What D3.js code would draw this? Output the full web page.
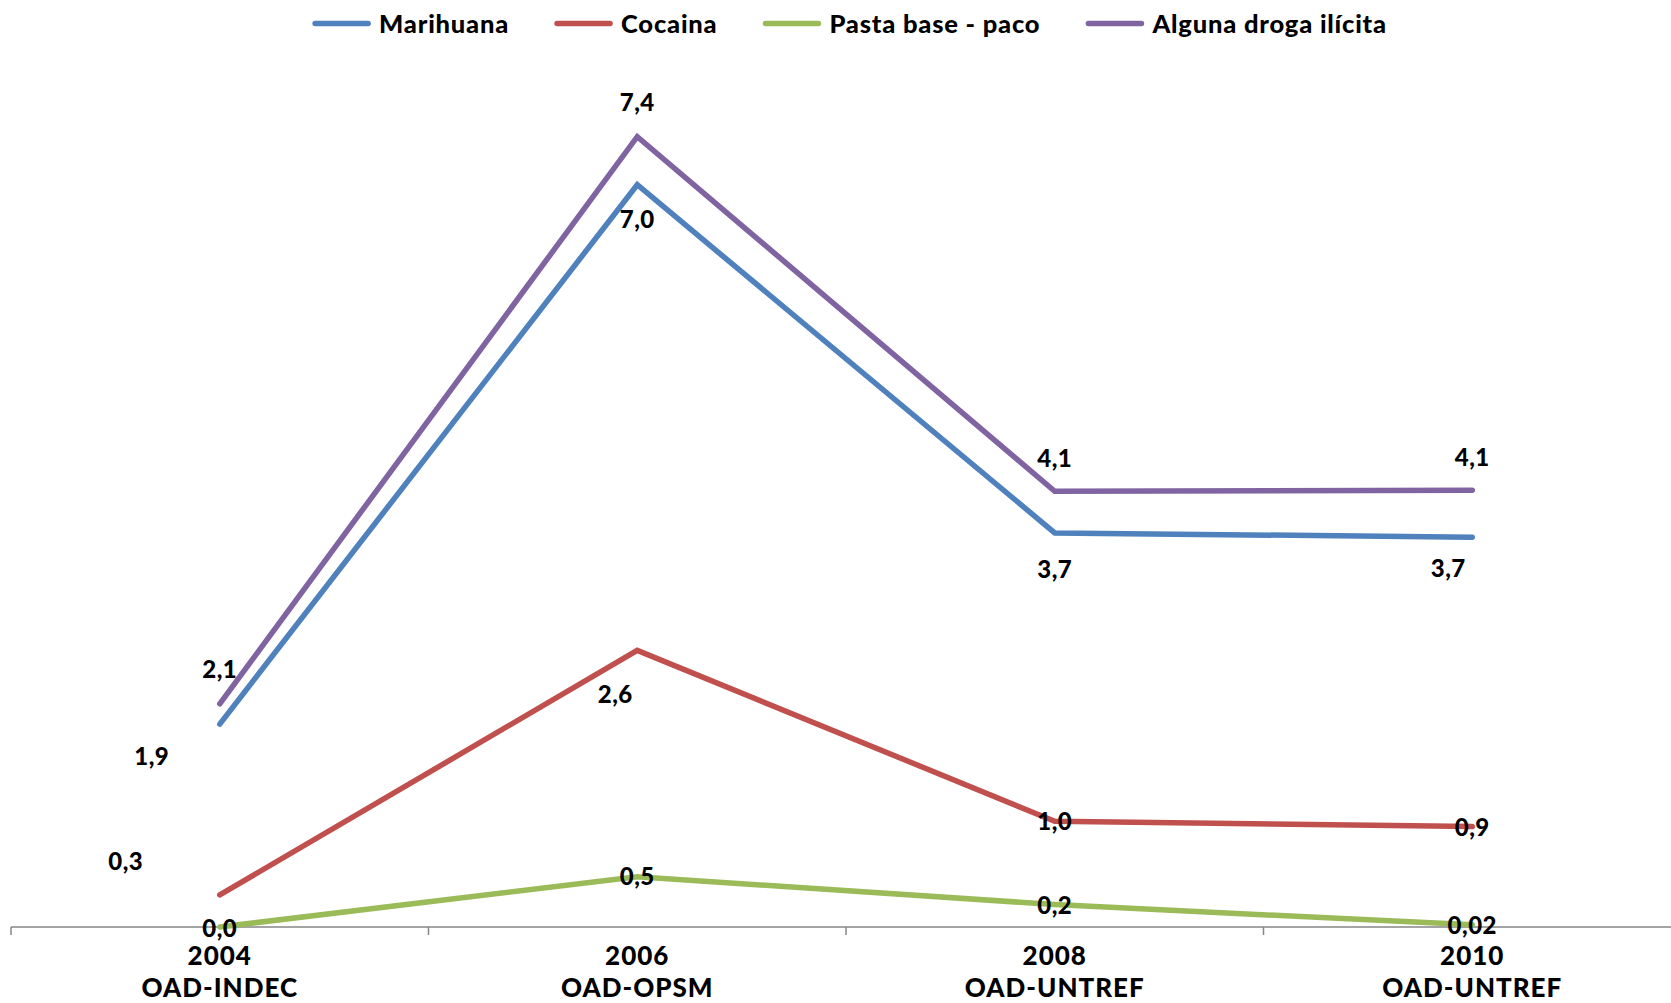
<!DOCTYPE html>
<html>
<head>
<meta charset="utf-8">
<script src="https://cdn.jsdelivr.net/npm/d3@7"></script>
<style>
  html, body { margin: 0; padding: 0; background: #fff; }
  svg { display: block; font-family: Lato, "Open Sans", sans-serif; font-weight: 900; }
</style>
</head>
<body>
<svg id="chart" width="1671" height="1003"></svg>
<script>
// ---- Data ----
const years = ["2004", "2006", "2008", "2010"];
const sources = ["OAD-INDEC", "OAD-OPSM", "OAD-UNTREF", "OAD-UNTREF"];
const seriesNames = ["Marihuana", "Cocaina", "Pasta base - paco", "Alguna droga ilícita"];
const marihuana = [1.9, 6.95, 3.69, 3.65];
const cocaina = [0.3, 2.59, 0.99, 0.94];
const pastaBase = [0.0, 0.47, 0.21, 0.02];
const algunaDroga = [2.09, 7.4, 4.08, 4.09];
const marihuanaLabels = ["1,9", "7,0", "3,7", "3,7"];
const cocainaLabels = ["0,3", "2,6", "1,0", "0,9"];
const pastaBaseLabels = ["0,0", "0,5", "0,2", "0,02"];
const algunaDrogaLabels = ["2,1", "7,4", "4,1", "4,1"];
const yDomain = [0, 8];

// ---- Styling / layout (not data) ----
const colors = ["#4F81BD", "#C0504D", "#9BBB59", "#8064A2"];
const labelOffsets = [
  [[-68, 32], [0, 35], [0, 36], [-24, 31]],   // Marihuana
  [[-94, -34], [-22, 44], [0, 0], [0, 1]],    // Cocaina
  [[0, 1], [0, 0], [0, 1], [0, 0]],           // Pasta base
  [[0, -34], [0, -34], [0, -33], [0, -33]]    // Alguna droga
];

const series = [
  { name: seriesNames[0], values: marihuana, labels: marihuanaLabels },
  { name: seriesNames[1], values: cocaina, labels: cocainaLabels },
  { name: seriesNames[2], values: pastaBase, labels: pastaBaseLabels },
  { name: seriesNames[3], values: algunaDroga, labels: algunaDrogaLabels }
];

const svg = d3.select("#chart");

const x = d3.scaleBand().domain(years).range([11, 1681]).padding(0);
const y = d3.scaleLinear().domain(yDomain).range([927, 72.6]);
const cx = d => x(d) + x.bandwidth() / 2;

// Axis
const axisG = svg.append("g");
axisG.append("line")
  .attr("x1", x.range()[0]).attr("x2", x.range()[1])
  .attr("y1", y(0)).attr("y2", y(0))
  .attr("stroke", "#868686").attr("stroke-width", 1.5);
const boundaries = years.map(d => x(d)).concat([x.range()[1]]);
axisG.selectAll("line.tick").data(boundaries).enter().append("line")
  .attr("class", "tick")
  .attr("x1", d => d).attr("x2", d => d)
  .attr("y1", y(0)).attr("y2", y(0) + 8)
  .attr("stroke", "#868686").attr("stroke-width", 1.5);
const catLabels = axisG.selectAll("text.cat").data(years).enter().append("text")
  .attr("class", "cat")
  .attr("x", d => cx(d))
  .attr("text-anchor", "middle")
  .attr("font-size", 26)
  .attr("letter-spacing", 1)
  .attr("fill", "#000");
catLabels.append("tspan").attr("x", d => cx(d)).attr("y", 965).text(d => d);
catLabels.append("tspan").attr("x", d => cx(d)).attr("y", 997).text((d, i) => sources[i]);

// Lines
const line = d3.line().x((v, i) => cx(years[i])).y(v => y(v));
svg.selectAll("path.series").data(series).enter().append("path")
  .attr("class", "series")
  .attr("d", s => line(s.values))
  .attr("fill", "none")
  .attr("stroke", (s, i) => colors[i])
  .attr("stroke-width", 5.5)
  .attr("stroke-linejoin", "miter")
  .attr("stroke-linecap", "round");

// Data labels
series.forEach((s, si) => {
  svg.selectAll(null).data(s.values).enter().append("text")
    .attr("x", (v, i) => cx(years[i]) + labelOffsets[si][i][0])
    .attr("y", (v, i) => y(v) + labelOffsets[si][i][1])
    .attr("dy", "0.36em")
    .attr("text-anchor", "middle")
    .attr("font-size", 24)
    .attr("letter-spacing", 0.5)
    .attr("fill", "#000")
    .text((v, i) => s.labels[i]);
});

// Legend
const legend = svg.append("g");
const legendY = 23.5;
const items = legend.selectAll("g.item").data(series).enter().append("g").attr("class", "item");
items.append("line")
  .attr("x1", 2).attr("x2", 55).attr("y1", legendY).attr("y2", legendY)
  .attr("stroke", (s, i) => colors[i]).attr("stroke-width", 5.5).attr("stroke-linecap", "round");
items.append("text")
  .attr("x", 66).attr("y", legendY).attr("dy", "0.36em")
  .attr("font-size", 25.5).attr("letter-spacing", 0.8).attr("fill", "#000")
  .text(s => s.name);
let widths = [];
items.each(function () { widths.push(this.getBBox().width + 2); });
const gap = 46;
const total = d3.sum(widths) + gap * (widths.length - 1);
let cur = 850 - total / 2;
items.attr("transform", (s, i) => { const t = `translate(${cur},0)`; cur += widths[i] + gap; return t; });
</script>
</body>
</html>
